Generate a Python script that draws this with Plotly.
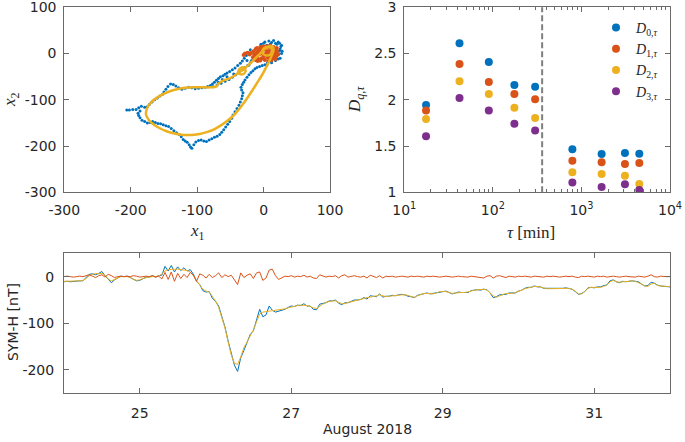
import plotly.graph_objects as go
import pandas as pd

# ---------------- Top-left: phase-space embedding (x1, x2) ----------------
blue_x1 = [27, 25, 22, 18, 15, 10, 5, 2, -2, -5, -8, 20, 25, 18, 12, 22, 28, 15, 8, -12,
           -15, -18, -20, -10, 5, 10, 0, -25, -22, 26,
           20, 24, 12, 8, 0, -4, 16, 22, 27, 24,
           -20, -23, -26, -29, -32, -35, -39, -43, -47, -51, -55, -58, -61, -65, -68, -71, -74, -77, -80, -84,
           -76, -70, -64, -58, -52, -47, -42, -37, -32, -28, -24, -45, -55, -62, -68,
           -88, -93, -98, -103, -108, -113, -118, -123, -128, -132, -136, -140, -144, -147, -150, -152, -156, -160, -164, -168,
           -172, -175, -179, -184, -188, -192, -197, -202, -206, -186,
           -189, -188, -186, -183, -179, -175, -171, -167, -163, -159, -155, -151,
           -147, -143, -139, -135, -131, -127, -124, -121, -118, -115, -112, -110, -108, -105, -102, -98, -94, -90, -86, -82,
           -78, -74, -70, -66, -63,
           -60, -57, -54, -51, -48, -46, -43, -40, -37, -35, -33, -32, -31, -33, -34, -32, -30, -28, -25, -22,
           -19, -16, -13, -10, -6, -2, 2, 6, 10, 14]
blue_x2 = [18, 10, 25, 22, 28, 20, 18, 25, 15, 10, 5, -5, -10, -15, -20, 0, 5, 12, 0, -5,
           -10, -15, -20, -15, -25, -10, -5, -15, -25, 15,
           20, 22, 24, 27, 22, 20, -8, -12, 0, 6,
           8, 2, -4, -10, -16, -21, -26, -31, -35, -39, -42, -45, -48, -50, -54, -58, -62, -66, -69, -71,
           -72, -68, -64, -60, -56, -51, -46, -40, -35, -30, -26, -44, -50, -56, -62,
           -73, -74, -75, -76, -74, -73, -75, -77, -74, -70, -67, -66, -71, -77, -83, -88, -92, -96, -100, -105,
           -110, -115, -116, -114, -117, -121, -121, -122, -122, -124,
           -129, -134, -139, -144, -147, -150, -149, -147, -149, -151, -152, -154,
           -156, -158, -162, -167, -171, -175, -180, -186, -189, -192, -197, -202, -205, -197, -191, -188, -187, -189, -190, -187,
           -184, -181, -179, -175, -170,
           -165, -159, -153, -147, -140, -133, -126, -119, -112, -105, -98, -91, -85, -79, -73, -67, -62, -57, -51, -46,
           -41, -37, -33, -30, -28, -26, -24, -20, -15, -10]

red_x1 = [-15, -12, -10, -8, -5, -3, 0, 2, 5, 8, 10, 12, 15, 18, 20,
          -14, -10, -6, -2, 3, 7, 11, 14, 17, 21,
          -16, -11, -7, -4, 1, 4, 9, 13, 16, 19,
          -12, -8, -3, 0, 6, 10, 14, 18,
          -9, -5, 2, 7, 12, 16,
          -6, 0, 5, 11,
          -28, -24, -21, -30, -19,
          20, 22]
red_x2 = [5, 10, 12, 8, 14, 10, 15, 12, 16, 13, 17, 12, 14, 10, 6,
          -2, 2, 4, 6, 8, 5, 9, 6, 3, 0,
          -8, -6, -2, 0, -3, 2, -1, 1, -4, -6,
          -14, -12, -10, -5, -8, -12, -9, -12,
          -16, -15, -14, -16, -15, -10,
          0, -11, -5, -6,
          0, 2, -2, -3, 1,
          12, -2]

model_x1 = [14, 15, 12, 8, 3, -3, -10, -17, -24, -31, -38, -46, -56, -66, -76, -86, -96, -108, -121, -134,
            -146, -157, -166, -173, -177, -176, -173, -166, -158, -149, -140, -130, -118, -105, -92, -80, -71, -67, -60, -50,
            -42, -35, -28, -22, -15, -8, -3, 1, 6, 10, 14,
            None, -2, 3, 10, 13, 11, 4, -1, -2,
            None, -38, -32, -27, -30, -36, -38]
model_x2 = [15, 8, -5, -18, -32, -48, -64, -80, -95, -109, -122, -135, -147, -157, -165, -170, -174, -176, -176, -173,
            -168, -161, -153, -143, -132, -121, -112, -101, -93, -86, -81, -77, -74, -73, -73, -73, -71, -64, -58, -53,
            -46, -39, -31, -24, -14, -4, 3, 9, 14, 16, 15,
            None, 2, -4, -2, 5, 12, 14, 9, 2,
            None, -42, -45, -38, -30, -33, -42]

# ---------------- Top-right: generalized dimensions ----------------
tau_min = [17.6, 42, 90, 175, 300, 790, 1690, 3100, 4500]
D0 = [1.944, 2.611, 2.409, 2.160, 2.142, 1.465, 1.414, 1.425, 1.418]
D1 = [1.883, 2.387, 2.193, 2.063, 2.005, 1.342, 1.324, 1.306, 1.317]
D2 = [1.793, 2.200, 2.063, 1.915, 1.804, 1.216, 1.198, 1.180, 1.090]
D3 = [1.605, 2.020, 1.883, 1.742, 1.667, 1.105, 1.058, 1.087, 1.025]
tau_threshold = 360

# ---------------- Bottom: SYM-H time series (hourly from 2018-08-24 00:00) ----------------
series_start = "2018-08-24 00:00"
symh_obs = [
    -11, -10, -11, -10, -10, -9, -9, -3, 5, 6, 4, 7,
    11, 2, -6, -13, -7, -2, 1, 0, 1, -2, -5, -9,
    -8, -4, -1, -1, 2, -1, 2, 3, 22, 12, 24, 10,
    21, 13, 19, 12, 15, 5, -10, -17, -30, -33, -32, -46,
    -53, -63, -86, -108, -138, -165, -190, -203, -174, -158, -139, -124,
    -116, -94, -70, -86, -82, -63, -72, -76, -74, -71, -70, -66,
    -63, -64, -61, -62, -58, -63, -63, -70, -71, -59, -57, -56,
    -52, -52, -50, -57, -60, -56, -56, -53, -50, -50, -49, -45,
    -48, -41, -42, -43, -37, -44, -42, -42, -40, -41, -39, -38,
    -39, -42, -43, -45, -40, -38, -37, -35, -37, -36, -34, -33,
    -32, -31, -34, -37, -35, -33, -34, -34, -34, -30, -29, -28,
    -29, -27, -28, -35, -45, -43, -39, -38, -38, -35, -35, -35,
    -31, -29, -25, -23, -23, -20, -22, -22, -25, -25, -26, -25,
    -26, -26, -25, -24, -25, -27, -32, -38, -36, -32, -24, -23,
    -24, -22, -22, -19, -18, -9, -7, -11, -13, -10, -11, -10,
    -9, -10, -11, -16, -20, -19, -12, -14, -18, -20, -21, -21,
    -22]
symh_model = [
    -10, -10, -10, -10, -10, -9, -8, -4, 2, 5, 7, 6,
    7, 3, -5, -9, -6, -2, 0, 0, 0, -2, -6, -8,
    -7, -4, -2, -1, 0, 0, 1, 6, 12, 15, 16, 16,
    16, 15, 14, 13, 10, 2, -9, -19, -27, -31, -33, -42,
    -52, -66, -88, -110, -140, -168, -186, -188, -172, -152, -140, -127,
    -114, -97, -80, -76, -75, -75, -74, -73, -72, -71, -69, -67,
    -65, -63, -62, -61, -61, -62, -64, -67, -68, -63, -59, -55,
    -53, -52, -52, -55, -58, -58, -55, -54, -52, -50, -48, -46,
    -45, -44, -43, -41, -39, -41, -43, -42, -41, -40, -39, -39,
    -39, -40, -43, -44, -41, -38, -36, -36, -37, -37, -35, -32,
    -32, -32, -34, -36, -35, -34, -34, -34, -33, -31, -29, -28,
    -27, -27, -29, -34, -41, -44, -41, -38, -36, -36, -36, -34,
    -32, -29, -26, -24, -22, -21, -21, -22, -24, -26, -26, -26,
    -26, -25, -25, -25, -25, -27, -31, -37, -37, -32, -25, -23,
    -23, -23, -23, -21, -18, -11, -8, -11, -12, -11, -11, -10,
    -9, -10, -13, -17, -20, -21, -16, -14, -19, -20, -21, -21,
    -21]
symh_resid = [
    0, 1, 0, -1, 0, 1, 0, 2, 4, 1, -2, 2,
    4, -1, 5, 2, -2, 0, 1, 0, 1, 0, 2, 1,
    -1, 0, 1, 0, 2, -1, 1, -5, 9, -6, 10, -10,
    7, -4, 5, -2, 9, 3, -10, 6, 3, -3, 5, -2,
    2, 8, -2, 4, 0, 3, -6, -17, 8, -2, 3, 6,
    -4, 8, 10, -8, -3, 14, 16, 2, -6, -2, 1, 0,
    2, -1, 1, 0, 3, -1, 1, -3, -4, 4, 2, -1,
    1, 0, 2, -3, 2, 4, -1, 1, 2, 0, -1, 1,
    -3, 3, 1, -2, 2, -3, 1, 0, 1, -1, 0, 1,
    0, -1, 1, 0, 1, 0, -1, 1, 0, 1, 0, -1,
    0, 1, 0, -1, 0, 1, 0, 0, -1, 1, 0, 0,
    -2, -3, 1, 2, -3, 1, 2, 0, -2, 1, 0, -1,
    1, 0, 1, 0, -1, 1, 0, 0, -1, 1, 0, 1,
    0, -1, 0, 1, 0, 1, -1, -2, 1, 0, 1, 0,
    -1, 1, 0, 1, -1, 0, 1, 0, -1, 0, 1, 0,
    0, -1, 1, 0, -1, 1, 4, 0, -1, 1, 0, 0,
    0]

day_tick_dates = ["2018-08-25", "2018-08-27", "2018-08-29", "2018-08-31"]
day_tick_labels = ["25", "27", "29", "31"]

# ---------------- styling ----------------
C_BLUE = "#0072BD"
C_RED = "#D95319"
C_YEL = "#EDB120"
C_PUR = "#7E2F8E"
AX_COL = "#6a6a6a"
TXT_COL = "#262626"
SANS = "DejaVu Sans"
SERIF = "Liberation Serif"
W, H = 685, 442

times = pd.date_range(series_start, periods=len(symh_obs), freq="h")

fig = go.Figure()

# top-left
fig.add_trace(go.Scatter(x=blue_x1, y=blue_x2, mode="markers", marker=dict(color=C_BLUE, size=3),
                         xaxis="x", yaxis="y", showlegend=False))
fig.add_trace(go.Scatter(x=red_x1, y=red_x2, mode="markers", marker=dict(color=C_RED, size=4),
                         xaxis="x", yaxis="y", showlegend=False))
fig.add_trace(go.Scatter(x=model_x1, y=model_x2, mode="lines", line=dict(color=C_YEL, width=2.5, shape="spline"),
                         xaxis="x", yaxis="y", showlegend=False, connectgaps=False))

# top-right
for vals, col, q in [(D0, C_BLUE, 0), (D1, C_RED, 1), (D2, C_YEL, 2), (D3, C_PUR, 3)]:
    fig.add_trace(go.Scatter(x=tau_min, y=vals, mode="markers", marker=dict(color=col, size=8),
                             name=f"<i>D</i><sub>{q},<i>τ</i></sub>", xaxis="x2", yaxis="y2"))

# bottom
fig.add_trace(go.Scatter(x=times, y=symh_obs, mode="lines", line=dict(color=C_BLUE, width=1),
                         xaxis="x3", yaxis="y3", showlegend=False))
fig.add_trace(go.Scatter(x=times, y=symh_model, mode="lines", line=dict(color=C_YEL, width=1),
                         xaxis="x3", yaxis="y3", showlegend=False))
fig.add_trace(go.Scatter(x=times, y=symh_resid, mode="lines", line=dict(color=C_RED, width=1),
                         xaxis="x3", yaxis="y3", showlegend=False))

def axstyle(**kw):
    base = dict(showline=True, linecolor=AX_COL, linewidth=1, mirror="ticks", ticks="inside",
                ticklen=5, tickcolor=AX_COL, tickwidth=1, showgrid=False, zeroline=False,
                automargin=False, ticklabeloverflow="allow",
                tickfont=dict(family=SANS, size=14, color=TXT_COL), ticklabelstandoff=4)
    base.update(kw)
    return base

ytop = [1 - 192.3 / H, 1 - 7.3 / H]
ybot = [1 - 393.3 / H, 1 - 253.3 / H]

tl_ticks = [-300, -200, -100, 0, 100]
tl_text = ["-300", "-200", "-100", "0", "100"]

def ann(text, px, py, font, angle=0):
    return dict(text=text, x=px / W, y=1 - py / H, xref="paper", yref="paper", showarrow=False,
                xanchor="center", yanchor="middle", textangle=angle, font=font)

serif_font = dict(family=SERIF, size=17, color=TXT_COL)
sans_font = dict(family=SANS, size=14, color=TXT_COL)

fig.update_layout(
    width=W, height=H, margin=dict(l=0, r=0, t=0, b=0, autoexpand=False),
    paper_bgcolor="white", plot_bgcolor="white",
    xaxis=axstyle(domain=[64.3 / W, 330 / W], range=[-300, 100], tickvals=tl_ticks, ticktext=tl_text,
                  anchor="y", ticklabelstandoff=5),
    yaxis=axstyle(domain=ytop, range=[-300, 100], tickvals=tl_ticks, ticktext=tl_text, anchor="x"),
    xaxis2=axstyle(domain=[404.3 / W, 670 / W], type="log", range=[1, 4], anchor="y2",
                   tickvals=[10, 100, 1000, 10000],
                   ticktext=["10<sup>1</sup>", "10<sup>2</sup>", "10<sup>3</sup>", "10<sup>4</sup>"],
                   ticklabelstandoff=5,
                   minor=dict(ticks="inside", ticklen=3, tickcolor=AX_COL, dtick="D1", showgrid=False)),
    yaxis2=axstyle(domain=ytop, range=[1, 3], tickvals=[1, 1.5, 2, 2.5, 3],
                   ticktext=["1", "1.5", "2", "2.5", "3"], anchor="x2"),
    xaxis3=axstyle(domain=[64 / W, 670 / W], type="date", anchor="y3",
                   range=["2018-08-24 00:00", "2018-09-01 00:00"],
                   tickvals=day_tick_dates, ticktext=day_tick_labels, ticklabelstandoff=7),
    yaxis3=axstyle(domain=ybot, range=[-250, 50], tickvals=[-200, -100, 0],
                   ticktext=["-200", "-100", "0"], anchor="x3", ticklabelstandoff=6),
    legend=dict(x=596 / W, y=1 - 12 / H, xanchor="left", yanchor="top", bgcolor="rgba(0,0,0,0)",
                font=dict(family=SERIF, size=14, color=TXT_COL), itemwidth=30, tracegroupgap=0),
    shapes=[dict(type="line", xref="x2", yref="y2 domain", x0=tau_threshold, x1=tau_threshold, y0=0, y1=1,
                 line=dict(color="#7f7f7f", width=2, dash="6px,3px"))],
    annotations=[
        ann("<i>x</i><sub>1</sub>", 197, 232, serif_font),
        ann("<i>x</i><sub>2</sub>", 11, 100, serif_font, -90),
        ann("<i>D</i><sub><i>q</i>,<i>τ</i></sub>", 356, 100, serif_font, -90),
        ann("<i>τ</i> [min]", 531, 232, serif_font),
        ann("SYM-H [nT]", 13, 322, sans_font, -90),
        ann("August 2018", 367, 429, sans_font),
    ],
)

fig.write_html("out.html", config={"displayModeBar": False},
               post_script="document.body.style.margin='0';document.body.style.overflow='hidden';")
